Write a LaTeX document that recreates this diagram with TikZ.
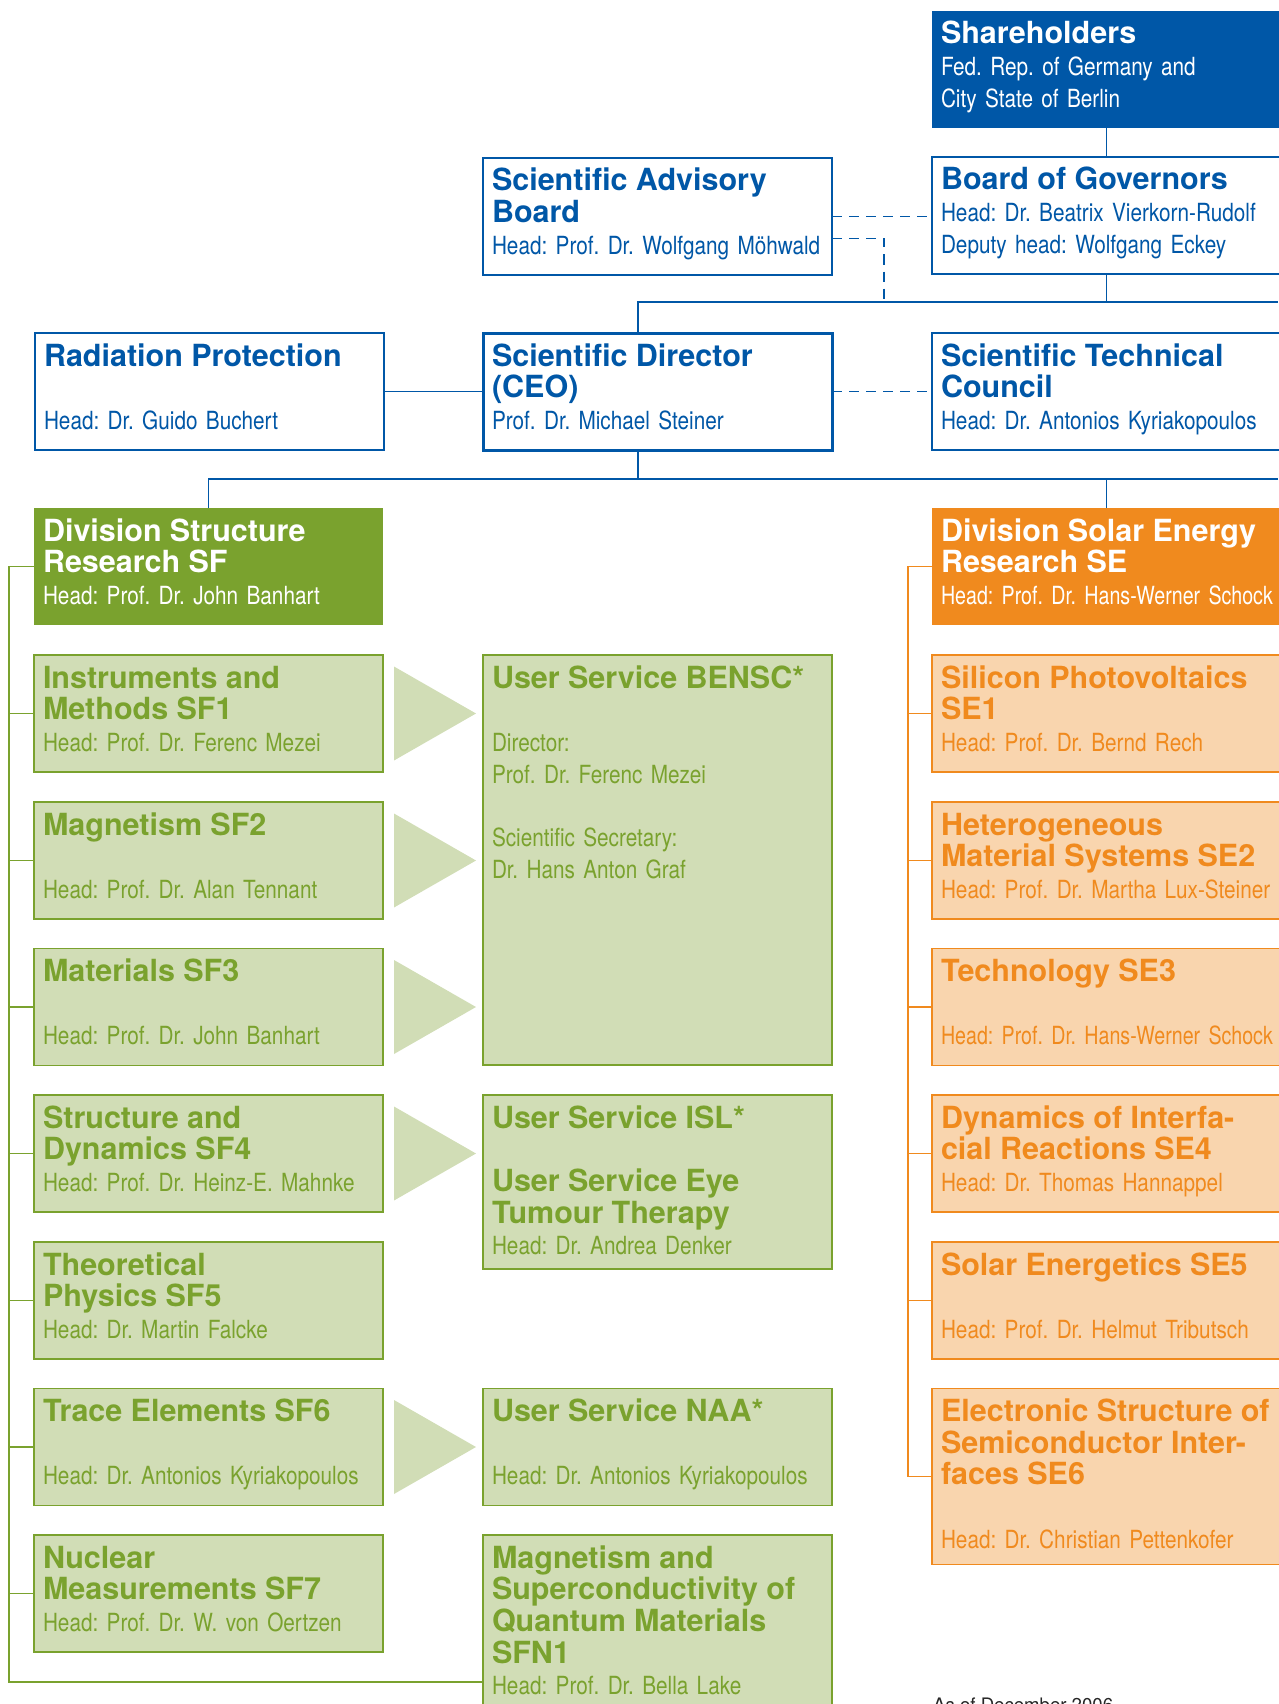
\documentclass[tikz,border=0pt]{standalone}
\usepackage{fontspec}
\setmainfont{TeX Gyre Heros}
\newfontfamily\hdfont[FakeStretch=0.83,WordSpace=0.8]{TeX Gyre Heros}
\newfontfamily\hdnarrow[FakeStretch=0.785,WordSpace=0.6]{TeX Gyre Heros}
\usepackage{tikz}
\usetikzlibrary{calc}
\frenchspacing

\definecolor{hzbblue}{HTML}{0057A7}
\definecolor{sfgreen}{HTML}{7AA22E}
\definecolor{sflight}{HTML}{D1DDB6}
\definecolor{seorange}{HTML}{F08A1E}
\definecolor{selight}{HTML}{F9D5AE}

\newcommand{\ttl}[1]{\mbox{\fontsize{30.5}{31.7}\selectfont\bfseries #1}}
\newcommand{\hd}[1]{\mbox{\hdfont #1}}
\newcommand{\hdn}[1]{\mbox{\hdnarrow #1}}
\newcommand{\gap}{\mbox{}}

\tikzset{
  orgunit/.style={rectangle, anchor=north west, inner xsep=9pt, inner ysep=0pt,
    outer sep=0pt, text width=331pt, align=left, text height=33pt, text depth=#1,
    line width=1.5pt, font=\fontsize{25}{31.7}\selectfont\frenchspacing},
  orgunit/.default=84pt,
  boardbox/.style={orgunit=#1, draw=hzbblue, fill=white, text=hzbblue},
  boardbox/.default=84pt,
  bluefill/.style={orgunit=#1, fill=hzbblue, text=white},
  bluefill/.default=84pt,
  sfhead/.style={orgunit=#1, fill=sfgreen, text=white},
  sfhead/.default=84pt,
  sfbox/.style={orgunit=#1, draw=sfgreen, fill=sflight, text=sfgreen},
  sfbox/.default=84pt,
  sehead/.style={orgunit=#1, fill=seorange, text=white},
  sehead/.default=84pt,
  sebox/.style={orgunit=#1, draw=seorange, fill=selight, text=seorange},
  sebox/.default=84pt,
  blueline/.style={draw=hzbblue, line width=1.6pt},
  dashline/.style={draw=hzbblue, line width=1.6pt, dash pattern=on 10pt off 7pt},
  greenline/.style={draw=sfgreen, line width=1.6pt},
  orangeline/.style={draw=seorange, line width=1.6pt}
}

\begin{document}
\begin{tikzpicture}[x=1pt,y=-1pt]
\useasboundingbox (0,0) rectangle (1278,1704);

% board level
\node (share) [bluefill] at (932,11) {\ttl{Shareholders}\\ \hd{Fed. Rep. of Germany and}\\ \hd{City State of Berlin}};
\node (board) [boardbox] at (932,157) {\ttl{Board of Governors}\\ \hd{Head: Dr. Beatrix Vierkorn-Rudolf}\\ \hd{Deputy head: Wolfgang Eckey}};
\node (sab) [boardbox] at (483,158) {\ttl{Scientific Advisory}\\ \ttl{Board}\\ \hd{Head: Prof. Dr. Wolfgang Möhwald}};
\node (rp) [boardbox] at (35,333) {\ttl{Radiation Protection}\\ \gap\\ \hd{Head: Dr. Guido Buchert}};
\node (sd) [boardbox, line width=3pt] at (483,333) {\ttl{Scientific Director}\\ \ttl{(CEO)}\\ \hd{Prof. Dr. Michael Steiner}};
\node (stc) [boardbox] at (932,333) {\ttl{Scientific Technical}\\ \ttl{Council}\\ \hd{Head: Dr. Antonios Kyriakopoulos}};

% divisions
\node (sf) [sfhead] at (34,508) {\ttl{Division Structure}\\ \ttl{Research SF}\\ \hd{Head: Prof. Dr. John Banhart}};
\node (se) [sehead] at (932,508) {\ttl{Division Solar Energy}\\ \ttl{Research SE}\\ \hdn{Head: Prof. Dr. Hans-Werner Schock}};

% structure research
\node (sf1) [sfbox] at (34,655) {\ttl{Instruments and}\\ \ttl{Methods SF1}\\ \hd{Head: Prof. Dr. Ferenc Mezei}};
\node (sf2) [sfbox] at (34,802) {\ttl{Magnetism SF2}\\ \gap\\ \hd{Head: Prof. Dr. Alan Tennant}};
\node (sf3) [sfbox] at (34,948.5) {\ttl{Materials SF3}\\ \gap\\ \hd{Head: Prof. Dr. John Banhart}};
\node (sf4) [sfbox] at (34,1095) {\ttl{Structure and}\\ \ttl{Dynamics SF4}\\ \hd{Head: Prof. Dr. Heinz-E. Mahnke}};
\node (sf5) [sfbox] at (34,1242) {\ttl{Theoretical}\\ \ttl{Physics SF5}\\ \hd{Head: Dr. Martin Falcke}};
\node (sf6) [sfbox] at (34,1388.5) {\ttl{Trace Elements SF6}\\ \gap\\ \hd{Head: Dr. Antonios Kyriakopoulos}};
\node (sf7) [sfbox] at (34,1535) {\ttl{Nuclear}\\ \ttl{Measurements SF7}\\ \hd{Head: Prof. Dr. W. von Oertzen}};

% user services
\node (bensc) [sfbox=377pt] at (483,655) {\ttl{User Service BENSC*}\\ \gap\\ \hd{Director:}\\ \hd{Prof. Dr. Ferenc Mezei}\\ \gap\\ \hd{Scientific Secretary:}\\ \hd{Dr. Hans Anton Graf}};
\node (isl) [sfbox=141pt] at (483,1095) {\ttl{User Service ISL*}\\ \gap\\ \ttl{User Service Eye}\\ \ttl{Tumour Therapy}\\ \hd{Head: Dr. Andrea Denker}};
\node (naa) [sfbox] at (483,1388.5) {\ttl{User Service NAA*}\\ \gap\\ \hd{Head: Dr. Antonios Kyriakopoulos}};
\node (sfn1) [sfbox=150pt] at (483,1535) {\ttl{Magnetism and}\\ \ttl{Superconductivity of}\\ \ttl{Quantum Materials}\\ \ttl{SFN1}\\ \hd{Head: Prof. Dr. Bella Lake}};

% solar energy research
\node (se1) [sebox] at (932,655) {\ttl{Silicon Photovoltaics}\\ \ttl{SE1}\\ \hd{Head: Prof. Dr. Bernd Rech}};
\node (se2) [sebox] at (932,802) {\ttl{Heterogeneous}\\ \ttl{Material Systems SE2}\\ \hd{Head: Prof. Dr. Martha Lux-Steiner}};
\node (se3) [sebox] at (932,948.5) {\ttl{Technology SE3}\\ \gap\\ \hdn{Head: Prof. Dr. Hans-Werner Schock}};
\node (se4) [sebox] at (932,1095) {\ttl{Dynamics of Interfa-}\\ \ttl{cial Reactions SE4}\\ \hd{Head: Dr. Thomas Hannappel}};
\node (se5) [sebox] at (932,1242) {\ttl{Solar Energetics SE5}\\ \gap\\ \hd{Head: Prof. Dr. Helmut Tributsch}};
\node (se6) [sebox=143pt] at (932,1388.5) {\ttl{Electronic Structure of}\\ \ttl{Semiconductor Inter-}\\ \ttl{faces SE6}\\ \gap\\ \hd{Head: Dr. Christian Pettenkofer}};

\node (asof) [anchor=base west, inner sep=0pt, text=black!85, font=\fontsize{18.6}{22}\selectfont] at (933,1711) {As of December 2006};

% blue connectors
\coordinate (topbar) at (1278,302);
\coordinate (midbar) at (1278,479);
\coordinate (sabdrop) at (884,302);
\draw[blueline] (share.south) -- (board.north);
\draw[blueline] (board.south) -- (board.south |- topbar);
\draw[blueline] ($(sd.north west)+(155,0)$) |- (topbar);
\draw[dashline] (sab.east) -- (sab.east -| board.west);
\draw[dashline] ($(sab.east)+(0,22)$) -| (sabdrop);
\draw[blueline] (rp.east) -- (sd.west);
\draw[dashline] (sd.east) -- (stc.west);
\draw[blueline] ($(sd.south west)+(155,0)$) -- ++(0,30);
\draw[blueline] (sf.north) |- (midbar);
\draw[blueline] (se.north) -- (se.north |- midbar);

% green rail
\coordinate (sfrail) at (9,1682);
\draw[greenline] (sf.west) -| (sfrail) -- (sfrail -| sfn1.west);
\foreach \n in {1,...,7}
  \draw[greenline] (sf\n.west) -- (sf\n.west -| sfrail);

% orange rail
\coordinate (serail) at (908,567);
\draw[orangeline] (se.west) -| (serail |- se6.west) -- (se6.west);
\foreach \n in {1,...,5}
  \draw[orangeline] (se\n.west) -- (se\n.west -| serail);

% arrows to user services
\foreach \n in {1,2,3,4,6}
  \fill[sflight] ($(sf\n.east)+(11,-47)$) -- ($(sf\n.east)+(93,0)$) -- ($(sf\n.east)+(11,47)$) -- cycle;
\end{tikzpicture}
\end{document}
